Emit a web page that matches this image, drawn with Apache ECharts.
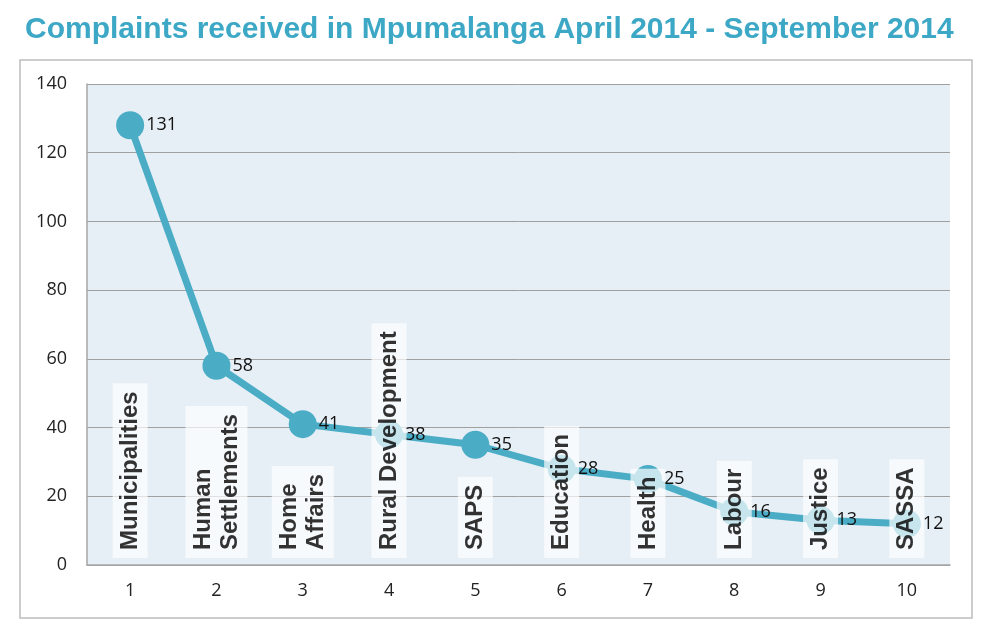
<!DOCTYPE html>
<html>
<head>
<meta charset="utf-8">
<script src="https://cdn.jsdelivr.net/npm/echarts@6/dist/echarts.min.js"></script>
<style>
  html, body { margin: 0; padding: 0; background: #fff; }
  #chart { width: 1000px; height: 629px; }
</style>
</head>
<body>
<div id="chart"></div>
<script>
// data
var ticks = ['1', '2', '3', '4', '5', '6', '7', '8', '9', '10'];
var departments = ['Municipalities', 'Human\nSettlements', 'Home\nAffairs', 'Rural Development', 'SAPS',
  'Education', 'Health', 'Labour', 'Justice', 'SASSA'];
// where the points sit on the axis
var plotted = [128, 58, 41, 38, 35, 28, 25, 15.5, 13, 12];
// the numbers printed next to them
var printed = ['131', '58', '41', '38', '35', '28', '25', '16', '13', '12'];
var baseline = [0, 0, 0, 0, 0, 0, 0, 0, 0, 0];

var teal = '#4BACC6';

var chart = echarts.init(document.getElementById('chart'));

chart.setOption({
  animation: false,
  title: {
    text: 'Complaints received in Mpumalanga April 2014 - September 2014',
    left: 20,
    top: 10,
    textStyle: { color: '#3CA8C6', fontSize: 30, fontWeight: 'bold', fontFamily: 'Liberation Sans' }
  },
  graphic: [{
    type: 'rect',
    shape: { x: 20, y: 60, width: 952, height: 558 },
    style: { fill: 'none', stroke: '#BDBDBD', lineWidth: 1.5 },
    z: -1
  }],
  grid: {
    left: 87, right: 50, top: 84, bottom: 64,
    show: true, backgroundColor: '#E6EFF5', borderColor: 'transparent'
  },
  xAxis: {
    type: 'category',
    data: ticks,
    axisLine: { lineStyle: { color: '#A6A6A6', width: 1.5 } },
    axisTick: { show: false },
    axisLabel: { color: '#222', fontSize: 18, fontFamily: 'Open Sans', margin: 17 }
  },
  yAxis: {
    type: 'value',
    min: 0, max: 140, interval: 20,
    axisLine: { show: true, lineStyle: { color: '#A6A6A6', width: 1.5 } },
    splitLine: { lineStyle: { color: '#A0A0A0', width: 1 } },
    axisLabel: { color: '#222', fontSize: 18, fontFamily: 'Open Sans', margin: 20 }
  },
  series: [{
    type: 'line',
    data: plotted,
    z: 2,
    symbol: 'circle',
    symbolSize: 28,
    lineStyle: { color: teal, width: 7 },
    itemStyle: { color: teal },
    label: {
      show: true,
      position: 'right',
      distance: 2,
      color: '#111',
      fontSize: 18,
      fontFamily: 'Open Sans',
      formatter: function (p) { return printed[p.dataIndex]; }
    }
  }, {
    type: 'scatter',
    data: baseline,
    z: 5,
    symbolSize: 0,
    silent: true,
    label: {
      show: true,
      position: 'top',
      distance: 7,
      rotate: 90,
      align: 'left',
      verticalAlign: 'middle',
      color: '#000',
      fontSize: 24,
      fontWeight: 'bold',
      fontFamily: 'Liberation Sans',
      lineHeight: 27,
      backgroundColor: 'rgba(255,255,255,0.85)',
      padding: [4, 8, 4, 8],
      formatter: function (p) { return departments[p.dataIndex]; }
    }
  }]
});
</script>
</body>
</html>
